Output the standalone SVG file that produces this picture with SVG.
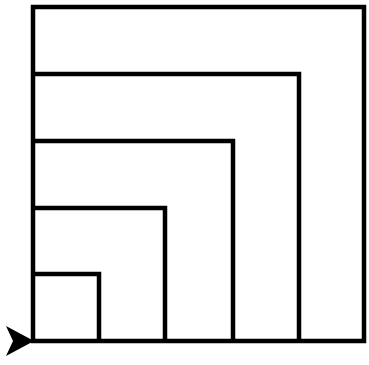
<svg xmlns="http://www.w3.org/2000/svg" width="369" height="365" viewBox="0 0 369 365">
<style>
.sq{fill:none;stroke:#000;stroke-width:4.5;stroke-linejoin:miter}
</style>
<rect width="369" height="365" fill="#fff"/>
<g id="square1"><path class="sq" d="M33,341 V7 H364 V341 Z"/></g>
<g id="square2"><path class="sq" d="M33,74 H299 V341"/></g>
<g id="square3"><path class="sq" d="M33,141 H233 V341"/></g>
<g id="square4"><path class="sq" d="M33,208 H165 V341"/></g>
<g id="square5"><path class="sq" d="M33,274 H99 V341"/></g>
<g id="connectors"><path d="M34,341 L6,326 L13,341 L6,356 Z" fill="#000"/></g>
</svg>
